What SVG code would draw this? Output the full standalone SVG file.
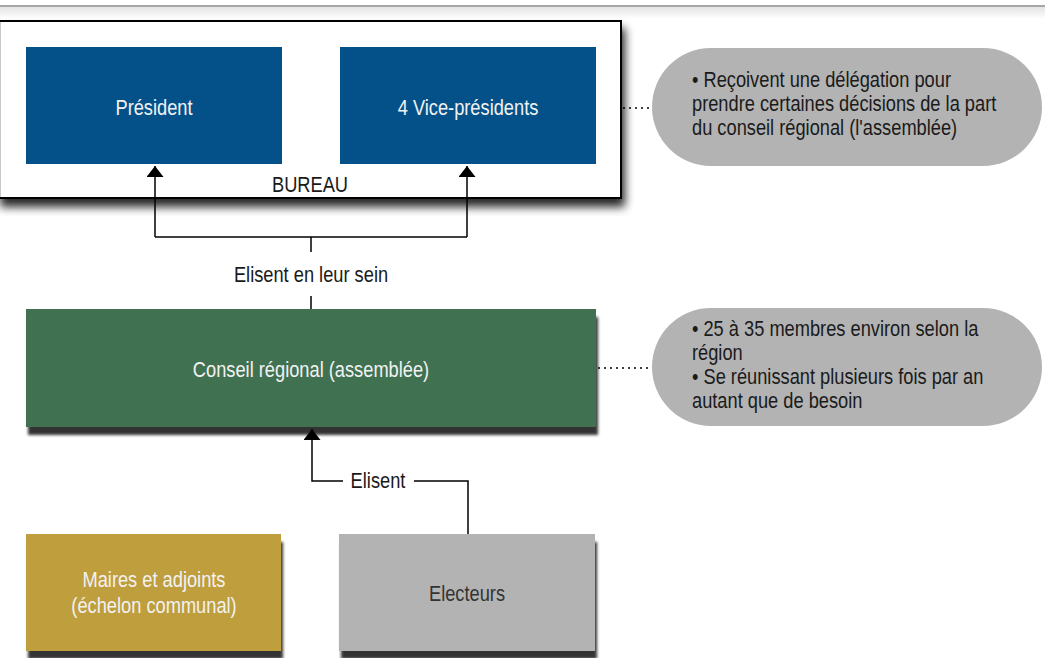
<svg xmlns="http://www.w3.org/2000/svg" width="1045" height="658" viewBox="0 0 1045 658">
  <style>
    text { font-family: "Liberation Sans", Arial, Helvetica, sans-serif; font-size: 22px; }
    .c { text-anchor: middle; }
    .light { fill: #f2f2f2; }
    .dark { fill: #1a1a1a; }
    .wire { fill: none; stroke: #000; stroke-width: 1.5; }
    .dots { fill: none; stroke: #000; stroke-width: 1.5; stroke-dasharray: 2 4; }
    .pill { fill: #b3b3b3; }
  </style>
  <defs>
    <linearGradient id="rulerFade" x1="0" y1="0" x2="0" y2="1">
      <stop offset="0" stop-color="#e4e4e4"/>
      <stop offset="1" stop-color="#ffffff"/>
    </linearGradient>
    <filter id="softShadow" x="-5%" y="-10%" width="115%" height="140%">
      <feGaussianBlur in="SourceAlpha" stdDeviation="5"/>
      <feOffset dx="3" dy="8" result="b"/>
      <feComponentTransfer><feFuncA type="linear" slope="0.85"/></feComponentTransfer>
      <feMerge><feMergeNode/><feMergeNode in="SourceGraphic"/></feMerge>
    </filter>
    <filter id="boxShadow" x="-5%" y="-10%" width="115%" height="140%">
      <feGaussianBlur in="SourceAlpha" stdDeviation="1.5"/>
      <feOffset dx="2" dy="8" result="b"/>
      <feComponentTransfer><feFuncA type="linear" slope="0.8"/></feComponentTransfer>
      <feMerge><feMergeNode/><feMergeNode in="SourceGraphic"/></feMerge>
    </filter>
    <marker id="arrow" viewBox="0 0 11 17" refX="11" refY="8.5" markerWidth="11" markerHeight="17" markerUnits="userSpaceOnUse" orient="auto">
      <path d="M0,0 L11,8.5 L0,17 Z" fill="#000"/>
    </marker>
  </defs>

  <rect width="1045" height="658" fill="#fff"/>
  <rect x="0" y="7" width="1045" height="12" fill="url(#rulerFade)"/>
  <line x1="0" y1="6" x2="1045" y2="6" stroke="#8a8a8a" stroke-width="1.5"/>

  <!-- labels use a horizontally condensed sans: translate to anchor, then squeeze -->
  <g id="bureau">
    <rect x="-2" y="21" width="623" height="177" fill="#fff" stroke="#000" stroke-width="2" filter="url(#softShadow)"/>
    <line x1="0.5" y1="22" x2="0.5" y2="197" stroke="#c8c8c8" stroke-width="1"/>
    <text class="c dark" transform="translate(310,192) scale(0.83,1)">BUREAU</text>
  </g>

  <g id="president">
    <rect x="26" y="47" width="256" height="117" fill="#04518a"/>
    <text class="c light" transform="translate(154,115) scale(0.83,1)">Président</text>
  </g>

  <g id="vice-presidents">
    <rect x="340" y="47" width="256" height="117" fill="#04518a"/>
    <text class="c light" transform="translate(468,115) scale(0.83,1)">4 Vice-présidents</text>
  </g>

  <g id="conseil">
    <rect x="26" y="309" width="570" height="118" fill="#3f7151" filter="url(#boxShadow)"/>
    <text class="c light" transform="translate(311,377) scale(0.83,1)">Conseil régional (assemblée)</text>
  </g>

  <g id="maires">
    <rect x="26" y="534" width="255" height="117" fill="#bf9e3c" filter="url(#boxShadow)"/>
    <text class="c light" transform="translate(154,587) scale(0.83,1)">Maires et adjoints</text>
    <text class="c light" transform="translate(154,613) scale(0.83,1)">(échelon communal)</text>
  </g>

  <g id="electeurs">
    <rect x="339" y="534" width="256" height="117" fill="#b3b3b3" filter="url(#boxShadow)"/>
    <text class="c" transform="translate(467,601) scale(0.83,1)" fill="#333">Electeurs</text>
  </g>

  <g id="note-bureau">
    <rect class="pill" x="652" y="48" width="390" height="118" rx="59" ry="59"/>
    <text class="dark" transform="translate(692,87) scale(0.83,1)">• Reçoivent une délégation pour</text>
    <text class="dark" transform="translate(692,111) scale(0.83,1)">prendre certaines décisions de la part</text>
    <text class="dark" transform="translate(692,135) scale(0.83,1)">du conseil régional (l'assemblée)</text>
  </g>

  <g id="note-conseil">
    <rect class="pill" x="652" y="308" width="390" height="118" rx="59" ry="59"/>
    <text class="dark" transform="translate(692,336) scale(0.83,1)">• 25 à 35 membres environ selon la</text>
    <text class="dark" transform="translate(692,360) scale(0.83,1)">région</text>
    <text class="dark" transform="translate(692,384) scale(0.83,1)">• Se réunissant plusieurs fois par an</text>
    <text class="dark" transform="translate(692,408) scale(0.83,1)">autant que de besoin</text>
  </g>

  <g id="connectors">
    <!-- council elects the bureau -->
    <polyline class="wire" points="155,237 155,166" marker-end="url(#arrow)"/>
    <polyline class="wire" points="467,237 467,166" marker-end="url(#arrow)"/>
    <line class="wire" x1="155" y1="237" x2="467" y2="237"/>
    <line class="wire" x1="311" y1="237" x2="311" y2="252"/>
    <line class="wire" x1="311" y1="296" x2="311" y2="309"/>
    <text class="c dark" transform="translate(311,282) scale(0.83,1)">Elisent en leur sein</text>
    <!-- voters elect the council -->
    <polyline class="wire" points="414,481 468,481 468,534"/>
    <polyline class="wire" points="343,481 312,481 312,429" marker-end="url(#arrow)"/>
    <text class="c dark" transform="translate(378,488) scale(0.83,1)">Elisent</text>
    <!-- notes -->
    <line class="dots" x1="623" y1="108" x2="652" y2="108"/>
    <line class="dots" x1="598" y1="368" x2="652" y2="368"/>
  </g>
</svg>
